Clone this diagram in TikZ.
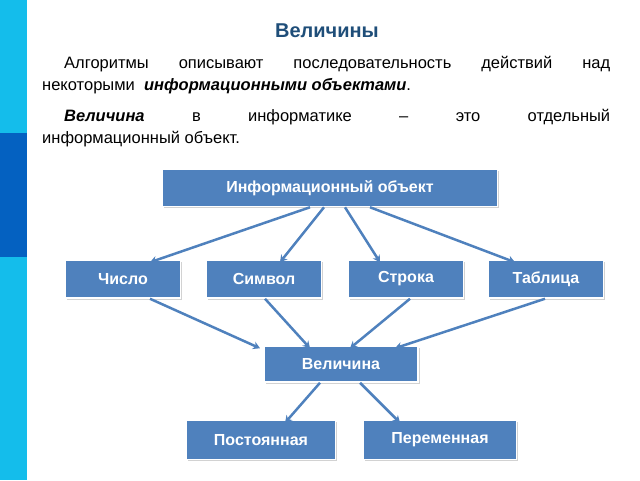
\documentclass[tikz,border=0pt]{standalone}
\usepackage{fontspec}
\setmainfont{Liberation Sans}
\usetikzlibrary{arrows.meta,shadows}
\definecolor{barlight}{HTML}{14BDEB}
\definecolor{bardark}{HTML}{0461C1}
\definecolor{boxblue}{HTML}{4F81BD}
\definecolor{titleblue}{HTML}{1F4E79}
\tikzset{
  infobox/.style={draw=white, line width=1.5pt, fill=boxblue, text=white,
    font=\bfseries\fontsize{16}{18}\selectfont, inner sep=0pt,
    drop shadow={shadow xshift=1.5pt, shadow yshift=-1.5pt, fill=black!35}},
  link/.style={boxblue, line width=2.5pt, -{Stealth[length=7pt,width=8pt]}}
}
\begin{document}
\begin{tikzpicture}[x=1pt, y=-1pt]
    \useasboundingbox (0,0) rectangle (640,480);
    % LEFT BAR
    \fill[barlight] (0,0) rectangle (27,480);
    \fill[bardark] (0,133) rectangle (27,257);
    % TITLE AND TEXT
    \node[titleblue, font=\bfseries\fontsize{20}{24}\selectfont] (title) at (327,31) {Величины};
    \node[anchor=north west, text width=568pt, align=justify, inner sep=0pt,
          font=\fontsize{16.5}{22}\selectfont] (para) at (42,56)
      {\hspace*{22pt}Алгоритмы описывают последовательность действий над\linebreak некоторыми\ \ \textit{\textbf{информационными объектами}}.\par
       \vspace{9pt}\hspace*{22pt}\textit{\textbf{Величина}} в информатике -- это отдельный\linebreak информационный объект.};
    % BOXES
    \node[infobox, minimum width=335pt, minimum height=37pt] (obj) at (330,188) {Информационный объект};
    \node[infobox, minimum width=115pt, minimum height=38pt] (num) at (123,279) {Число};
    \node[infobox, minimum width=115pt, minimum height=38pt] (sym) at (264,279) {Символ};
    \node[infobox, minimum width=115pt, minimum height=38pt] (str) at (406,279) {Строка};
    \node[infobox, minimum width=115pt, minimum height=38pt] (tab) at (546,279) {Таблица};
    \node[infobox, minimum width=154pt, minimum height=36pt] (val) at (341,364) {Величина};
    \node[infobox, minimum width=149pt, minimum height=39pt] (const) at (261,440) {Постоянная};
    \node[infobox, minimum width=153pt, minimum height=39pt] (var) at (440,440) {Переменная};
    % ARROWS
    \draw[link] ([xshift=-20pt]obj.south) -- ([xshift=27pt,yshift=-3pt]num.north);
    \draw[link] ([xshift=-6pt]obj.south) -- ([xshift=16pt,yshift=-3pt]sym.north);
    \draw[link] ([xshift=15pt]obj.south) -- ([xshift=-26pt,yshift=-3pt]str.north);
    \draw[link] ([xshift=40pt]obj.south) -- ([xshift=-31pt,yshift=-3pt]tab.north);
    \draw[link] ([xshift=27pt]num.south) -- ([xshift=-81pt,yshift=-3pt]val.north);
    \draw[link] ([xshift=1pt]sym.south) -- ([xshift=-31pt,yshift=-3pt]val.north);
    \draw[link] ([xshift=4pt]str.south) -- ([xshift=9pt,yshift=-3pt]val.north);
    \draw[link] ([xshift=-1pt]tab.south) -- ([xshift=54pt,yshift=-3pt]val.north);
    \draw[link] ([xshift=-21pt]val.south) -- ([xshift=24pt,yshift=-3pt]const.north);
    \draw[link] ([xshift=19pt]val.south) -- ([xshift=-40pt,yshift=-3pt]var.north);
\end{tikzpicture}
\end{document}
